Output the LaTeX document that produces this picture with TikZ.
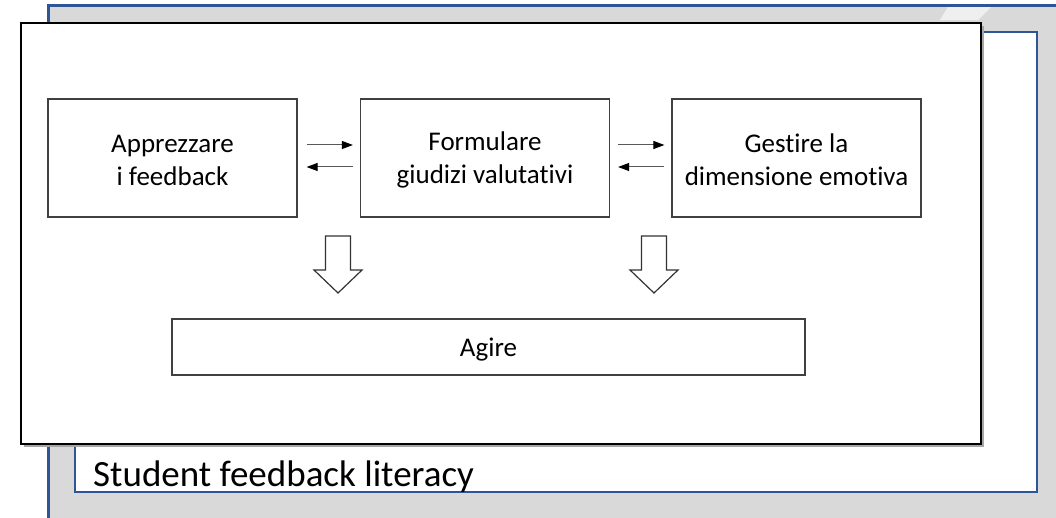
\documentclass[tikz,border=0pt]{standalone}
\usepackage{fontspec}
\setmainfont{Carlito}[Ligatures={NoCommon}]
\usetikzlibrary{arrows.meta,calc}
\definecolor{frameblue}{RGB}{47,85,151}
\definecolor{bggrey}{RGB}{217,217,217}
\definecolor{boxline}{RGB}{64,64,64}
\tikzset{
  stepbox/.style={draw=boxline,line width=1.2pt,fill=white,minimum width=249pt,minimum height=118pt,align=center,inner sep=0pt,font=\fontsize{27}{33}\selectfont},
  boxtext/.style={align=center,font=\fontsize{27}{33}\selectfont},
  smallarrow/.style={draw=black!65,line width=1pt,-{Triangle[length=11pt,width=8pt,fill=black,color=black]}},
  blockarrow/.style={draw=black!80,line width=1.2pt,fill=white,line join=miter}
}
\begin{document}
\begin{tikzpicture}[x=1pt,y=-1pt]
\useasboundingbox (0,0) rectangle (1056,518);
\begin{scope}
\clip (0,0) rectangle (1056,518);
% background grey panel
\fill[bggrey] (48,6) rectangle (1070,530);
\fill[white,opacity=0.6] (952,0) -- (998,0) -- (978,20) -- (940,20) -- cycle;
\draw[frameblue,line width=3pt] (48,530) -- (48,6) -- (1070,6);
% inner white panel
\draw[frameblue,line width=2.4pt,fill=white] (75,32) rectangle (1037,492);
\node[anchor=base west,inner sep=0pt,font=\fontsize{37}{44}\selectfont] (title) at (93,486) {Student feedback literacy};
% black front box
\fill[black!35] (24,26) rectangle (984,447);
\draw[black,line width=2pt,fill=white] (21,23) rectangle (981,444);
\end{scope}
% step boxes
\node[stepbox] (b1) at (172.5,158) {};
\node[stepbox] (b2) at (485,158) {};
\node[stepbox] (b3) at (796.5,158) {};
\node[boxtext] (t1) at ([yshift=-2pt]b1.center) {Apprezzare\\i feedback};
\node[boxtext] (t2) at ([yshift=-2pt]b2.center) {Formulare\\giudizi valutativi};
\node[boxtext] (t3) at ([yshift=-2pt]b3.center) {Gestire la\\dimensione emotiva};
\node[stepbox,minimum width=633pt,minimum height=56pt] (agire) at (488.5,347) {};
\node[boxtext] (t4) at ([yshift=-3pt]agire.center) {Agire};
% small arrows
\draw[smallarrow] ($(b1.east)+(9,-13)$) -- ($(b2.west)+(-7,-13)$);
\draw[smallarrow] ($(b2.west)+(-7,9)$) -- ($(b1.east)+(9,9)$);
\draw[smallarrow] ($(b2.east)+(8,-13)$) -- ($(b3.west)+(-7,-13)$);
\draw[smallarrow] ($(b3.west)+(-7,9)$) -- ($(b2.east)+(8,9)$);
% block arrows
\foreach \cx in {338,654}{
  \draw[blockarrow] (\cx-12.5,236) -- (\cx+12.5,236) -- (\cx+12.5,270) -- (\cx+24,270) -- (\cx,293) -- (\cx-24,270) -- (\cx-12.5,270) -- cycle;
}
\end{tikzpicture}
\end{document}
